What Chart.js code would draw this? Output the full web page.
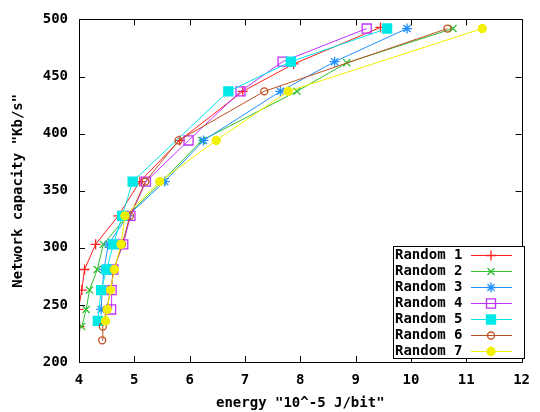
<!DOCTYPE html>
<html>
<head>
<meta charset="utf-8">
<script src="https://cdn.jsdelivr.net/npm/chart.js@4/dist/chart.umd.min.js"></script>
<style>
  html, body { margin: 0; padding: 0; background: #fff; }
  canvas { display: block; }
</style>
</head>
<body>
<canvas id="plot" width="540" height="412"></canvas>
<script>
const seriesNames = ['Random 1', 'Random 2', 'Random 3', 'Random 4', 'Random 5', 'Random 6', 'Random 7'];

// capacity (Kb/s) and energy (10^-5 J/bit) per run
const random1Capacity = [231, 246, 263, 281, 303, 328, 358, 394, 437, 461, 493];
const random1Energy   = [4.01, 3.99, 4.05, 4.10, 4.30, 4.71, 5.10, 5.82, 6.96, 7.88, 9.45];
const random2Capacity = [231, 246, 263, 281, 303, 328, 358, 394, 437, 462, 492];
const random2Energy   = [4.05, 4.13, 4.19, 4.33, 4.44, 4.87, 5.50, 6.22, 7.94, 8.84, 10.76];
const random3Capacity = [246, 263, 281, 303, 328, 358, 394, 437, 463, 492];
const random3Energy   = [4.40, 4.42, 4.45, 4.53, 4.88, 5.55, 6.25, 7.64, 8.62, 9.93];
const random4Capacity = [246, 263, 281, 303, 328, 358, 394, 437, 463, 492];
const random4Energy   = [4.58, 4.59, 4.62, 4.80, 4.93, 5.21, 5.98, 6.92, 7.68, 9.20];
const random5Capacity = [236, 263, 281, 303, 328, 358, 437, 463, 492];
const random5Energy   = [4.34, 4.40, 4.50, 4.62, 4.78, 4.97, 6.70, 7.83, 9.57];
const random6Capacity = [219, 231, 246, 263, 281, 303, 328, 358, 394, 437, 492];
const random6Energy   = [4.42, 4.43, 4.50, 4.57, 4.63, 4.78, 4.92, 5.20, 5.80, 7.35, 10.66];
const random7Capacity = [236, 246, 263, 281, 303, 328, 358, 394, 437, 492];
const random7Energy   = [4.48, 4.51, 4.57, 4.64, 4.76, 4.83, 5.46, 6.48, 7.78, 11.29];

const xTicks = [4, 5, 6, 7, 8, 9, 10, 11, 12];
const yTicks = [200, 250, 300, 350, 400, 450, 500];

const capacities = [random1Capacity, random2Capacity, random3Capacity, random4Capacity, random5Capacity, random6Capacity, random7Capacity];
const energies = [random1Energy, random2Energy, random3Energy, random4Energy, random5Energy, random6Energy, random7Energy];

const colors = ['#ff2020', '#30c030', '#2090ff', '#c030ff', '#00e8e8', '#c05020', '#f0f000'];
const markers = [
  { pointStyle: 'cross', radius: 5, fill: false },
  { pointStyle: 'crossRot', radius: 5, fill: false },
  { pointStyle: 'star', radius: 5, fill: false },
  { pointStyle: 'rect', radius: 6.4, fill: false },
  { pointStyle: 'rect', radius: 6.4, fill: true },
  { pointStyle: 'circle', radius: 3.5, fill: false },
  { pointStyle: 'circle', radius: 4, fill: true },
];

const FONT = 'DejaVu Sans Mono';

const datasets = seriesNames.map((name, i) => ({
  label: name,
  data: capacities[i].map((c, k) => ({ x: energies[i][k], y: c })),
  borderColor: colors[i],
  backgroundColor: markers[i].fill ? colors[i] : 'rgba(0,0,0,0)',
  borderWidth: 1,
  pointStyle: markers[i].pointStyle,
  pointRadius: markers[i].radius,
  pointBorderWidth: 1.3,
  pointBorderColor: colors[i],
  pointBackgroundColor: markers[i].fill ? colors[i] : 'rgba(0,0,0,0)',
  tension: 0,
  order: seriesNames.length - i,
}));

// gnuplot style frame: border box with inward ticks on all sides, plus key box
const framePlugin = {
  id: 'frame',
  afterDatasetsDraw(chart) {
    const ctx = chart.ctx;
    const a = chart.chartArea;
    const xs = chart.scales.x, ys = chart.scales.y;
    const t = 6;
    ctx.save();
    ctx.strokeStyle = '#000';
    ctx.lineWidth = 1;
    ctx.beginPath();
    ctx.rect(Math.round(a.left) + 0.5, Math.round(a.top) + 0.5, Math.round(a.right - a.left), Math.round(a.bottom - a.top));
    xTicks.forEach(v => {
      const px = Math.round(xs.getPixelForValue(v)) + 0.5;
      ctx.moveTo(px, a.bottom); ctx.lineTo(px, a.bottom - t);
      ctx.moveTo(px, a.top); ctx.lineTo(px, a.top + t);
    });
    yTicks.forEach(v => {
      const py = Math.round(ys.getPixelForValue(v)) + 0.5;
      ctx.moveTo(a.left, py); ctx.lineTo(a.left + t, py);
      ctx.moveTo(a.right, py); ctx.lineTo(a.right - t, py);
    });
    ctx.stroke();

    // key
    const boxL = 393.5, boxT = 246.5, boxW = 131, boxH = 112;
    ctx.fillStyle = '#fff';
    ctx.fillRect(boxL, boxT, boxW, boxH);
    ctx.strokeRect(boxL, boxT, boxW, boxH);
    ctx.font = 'bold 14px "' + FONT + '"';
    ctx.textBaseline = 'middle';
    ctx.textAlign = 'left';
    chart.data.datasets.forEach((ds, i) => {
      const y = 255 + i * 16;
      ctx.fillStyle = '#000';
      ctx.fillText(ds.label, 395, y);
      ctx.strokeStyle = ds.borderColor;
      ctx.lineWidth = 1;
      ctx.beginPath();
      ctx.moveTo(471, y + 0.5); ctx.lineTo(512, y + 0.5);
      ctx.stroke();
      ctx.fillStyle = ds.pointBackgroundColor;
      ctx.lineWidth = 1.3;
      Chart.helpers.drawPoint(ctx, { pointStyle: ds.pointStyle, radius: ds.pointRadius, rotation: 0, borderWidth: 1.3 }, 491, y + 0.5);
    });
    ctx.restore();
  }
};

new Chart(document.getElementById('plot'), {
  type: 'line',
  data: { datasets },
  options: {
    responsive: false,
    animation: false,
    devicePixelRatio: 1,
    layout: { padding: { left: 0, right: 12, top: 15, bottom: 0 } },
    plugins: { legend: { display: false }, tooltip: { enabled: false } },
    scales: {
      x: {
        type: 'linear',
        min: 4, max: 12,
        afterBuildTicks: s => { s.ticks = xTicks.map(v => ({ value: v })); },
        afterFit: s => { s.height = 50; },
        grid: { display: false, drawTicks: false },
        border: { display: false },
        ticks: { color: '#000', padding: 10, font: { family: FONT, size: 14, weight: 'bold' } },
        title: { display: true, text: 'energy "10^-5 J/bit"', color: '#000', padding: { top: 0, bottom: 0 }, font: { family: FONT, size: 14, weight: 'bold' } },
      },
      y: {
        type: 'linear',
        min: 200, max: 500,
        afterBuildTicks: s => { s.ticks = yTicks.map(v => ({ value: v })); },
        afterFit: s => { s.width = 79; },
        grid: { display: false, drawTicks: false },
        border: { display: false },
        ticks: { color: '#000', padding: 11, font: { family: FONT, size: 14, weight: 'bold' } },
        title: { display: true, text: 'Network capacity "Kb/s"', color: '#000', padding: { top: 10, bottom: 0 }, font: { family: FONT, size: 14, weight: 'bold' } },
      },
    },
  },
  plugins: [framePlugin],
});
</script>
</body>
</html>
